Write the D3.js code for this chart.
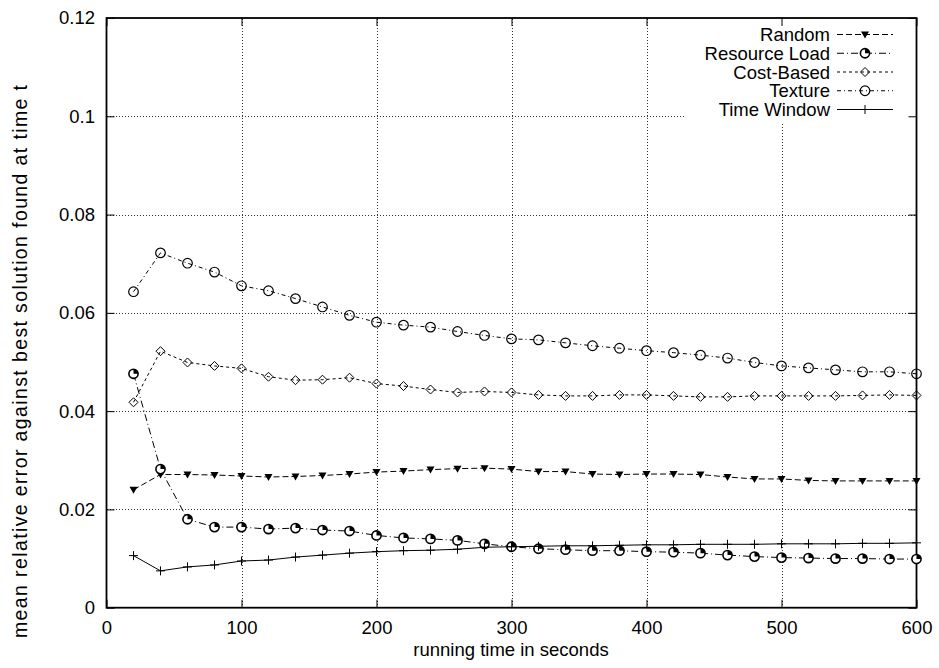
<!DOCTYPE html>
<html>
<head>
<meta charset="utf-8">
<script src="https://cdn.jsdelivr.net/npm/d3@7"></script>
<style>
  html, body { margin: 0; padding: 0; background: #fff; }
  svg { display: block; }
  text { font-family: "Liberation Sans", Arial, Helvetica, sans-serif; fill: #000; }
</style>
</head>
<body>
<svg id="chart" width="939" height="668"></svg>
<script>
// ---- data ----
const times = [20,40,60,80,100,120,140,160,180,200,220,240,260,280,300,320,340,360,380,400,420,440,460,480,500,520,540,560,580,600];
const random = [0.0240,0.0271,0.0271,0.0270,0.0268,0.0266,0.0267,0.0269,0.0272,0.0276,0.0278,0.0281,0.0283,0.0284,0.0282,0.0277,0.0277,0.0272,0.0271,0.0272,0.0272,0.0271,0.0266,0.0262,0.0262,0.0259,0.0258,0.0258,0.0258,0.0258];
const resourceLoad = [0.0476,0.0282,0.0180,0.0164,0.0164,0.0160,0.0162,0.0158,0.0156,0.0147,0.0142,0.0140,0.0137,0.0130,0.0124,0.0120,0.0118,0.0116,0.0116,0.0114,0.0113,0.0111,0.0107,0.0104,0.0102,0.0101,0.0100,0.0100,0.0099,0.0099];
const costBased = [0.0418,0.0522,0.0499,0.0492,0.0487,0.0470,0.0463,0.0464,0.0468,0.0456,0.0451,0.0444,0.0438,0.0440,0.0438,0.0433,0.0431,0.0431,0.0433,0.0433,0.0431,0.0429,0.0429,0.0431,0.0431,0.0431,0.0431,0.0432,0.0433,0.0432];
const texture = [0.0643,0.0722,0.0701,0.0683,0.0655,0.0645,0.0629,0.0612,0.0595,0.0581,0.0575,0.0571,0.0562,0.0554,0.0547,0.0545,0.0539,0.0533,0.0528,0.0523,0.0519,0.0514,0.0508,0.0499,0.0492,0.0488,0.0484,0.0480,0.0480,0.0476];
const timeWindow = [0.0106,0.0075,0.0083,0.0087,0.0095,0.0097,0.0103,0.0107,0.0111,0.0114,0.0116,0.0117,0.0119,0.0123,0.0124,0.0125,0.0126,0.0126,0.0127,0.0128,0.0128,0.0129,0.0129,0.0129,0.0130,0.0130,0.0130,0.0131,0.0131,0.0132];
const seriesNames = ["Random","Resource Load","Cost-Based","Texture","Time Window"];
const xTicks = [0,100,200,300,400,500,600];
const yTicks = [0,0.02,0.04,0.06,0.08,0.1,0.12];
const yTickLabels = ["0","0.02","0.04","0.06","0.08","0.1","0.12"];
const xLabel = "running time in seconds";
const yLabel = "mean relative error against best solution found at time t";

// ---- layout ----
const FS = 18.5;
const svg = d3.select("#chart");
const L = 106.5, R = 916.5, T = 18, B = 607.7;
const x = d3.scaleLinear().domain([0,600]).range([L,R]);
const y = d3.scaleLinear().domain([0,0.12]).range([B,T]);

// grid
const grid = svg.append("g").attr("stroke","#333").attr("stroke-width",1).attr("stroke-dasharray","1,2").attr("shape-rendering","crispEdges");
grid.selectAll("line.gx").data(xTicks.filter(d=>d>0 && d<600)).join("line")
  .attr("x1",d=>Math.round(x(d))+0.5).attr("x2",d=>Math.round(x(d))+0.5).attr("y1",B).attr("y2",T);
grid.selectAll("line.gy").data(yTicks.filter(d=>d>0 && d<0.12)).join("line")
  .attr("y1",d=>Math.round(y(d))+0.5).attr("y2",d=>Math.round(y(d))+0.5).attr("x1",L).attr("x2",R);

// legend background
svg.append("rect").attr("x",684).attr("y",T+1).attr("width",R-684).attr("height",104).attr("fill","#fff");

// axes
const fmtY = d => yTickLabels[yTicks.indexOf(d)];
const axL = svg.append("g").attr("transform",`translate(${L},0)`)
  .call(d3.axisLeft(y).tickValues(yTicks).tickFormat(fmtY).tickSize(-8).tickPadding(11.5));
const axR = svg.append("g").attr("transform",`translate(${R},0)`)
  .call(d3.axisRight(y).tickValues(yTicks).tickFormat("").tickSize(-8));
const axB = svg.append("g").attr("transform",`translate(0,${B})`)
  .call(d3.axisBottom(x).tickValues(xTicks).tickFormat(d3.format("d")).tickSize(-8).tickPadding(13));
const axT = svg.append("g").attr("transform",`translate(0,${T})`)
  .call(d3.axisTop(x).tickValues(xTicks).tickFormat("").tickSize(-8));
[axL,axR,axB,axT].forEach(a => {
  a.select(".domain").remove();
  a.selectAll("line").attr("stroke","#000").attr("stroke-width",1);
  a.selectAll("text").attr("font-size",FS).attr("font-family","Liberation Sans, Arial, sans-serif").attr("fill","#000");
});
svg.append("rect").attr("x",L).attr("y",T).attr("width",R-L).attr("height",B-T)
  .attr("fill","none").attr("stroke","#000").attr("stroke-width",1.8);

// labels
svg.append("text").attr("x",511).attr("y",656).attr("text-anchor","middle").attr("font-size",FS).text(xLabel);
svg.append("text").attr("transform","translate(27,361.5) rotate(-90)").attr("text-anchor","middle").attr("font-size",19.5)
  .attr("textLength",553).attr("lengthAdjust","spacing").text(yLabel);

// series
const series = [
  {name:seriesNames[0], values:random, dash:"6,3", marker:"tri"},
  {name:seriesNames[1], values:resourceLoad, dash:"7,3,1,3", marker:"half"},
  {name:seriesNames[2], values:costBased, dash:"3,3", marker:"diamond"},
  {name:seriesNames[3], values:texture, dash:"4,3,1,3", marker:"circle"},
  {name:seriesNames[4], values:timeWindow, dash:null, marker:"plus"}
];

function drawMarker(g, type, cx, cy) {
  if (type === "tri") {
    g.append("path").attr("d",`M${cx-4},${cy-3}L${cx+4},${cy-3}L${cx},${cy+4}Z`).attr("fill","#000");
  } else if (type === "half") {
    g.append("circle").attr("cx",cx).attr("cy",cy).attr("r",4.6).attr("fill","#fff").attr("stroke","#000").attr("stroke-width",1.6);
    g.append("path").attr("d",`M${cx},${cy}L${cx},${cy-4.6}A4.6,4.6 0 0 1 ${cx+4.6},${cy}Z`).attr("fill","#000");
  } else if (type === "diamond") {
    g.append("path").attr("d",`M${cx},${cy-4.5}L${cx+4.5},${cy}L${cx},${cy+4.5}L${cx-4.5},${cy}Z`).attr("fill","none").attr("stroke","#000").attr("stroke-width",1);
  } else if (type === "circle") {
    g.append("circle").attr("cx",cx).attr("cy",cy).attr("r",4.8).attr("fill","none").attr("stroke","#000").attr("stroke-width",1.2);
  } else if (type === "plus") {
    g.append("path").attr("d",`M${cx-4.5},${cy}H${cx+4.5}M${cx},${cy-4.5}V${cy+4.5}`).attr("stroke","#000").attr("stroke-width",1);
  }
}

const line = d3.line().x(d=>x(d[0])).y(d=>y(d[1]));
series.forEach(s => {
  const pts = times.map((t,i)=>[t,s.values[i]]);
  const g = svg.append("g");
  g.append("path").attr("d",line(pts)).attr("fill","none").attr("stroke","#000").attr("stroke-width",1)
    .attr("stroke-dasharray",s.dash);
  pts.forEach(p => drawMarker(g, s.marker, x(p[0]), y(p[1])));
});

// legend
const lg = svg.append("g");
series.forEach((s,i) => {
  const yy = 34.5 + i*18.75;
  lg.append("text").attr("x",830).attr("y",yy).attr("dy","0.36em").attr("text-anchor","end").attr("font-size",FS).text(s.name);
  lg.append("line").attr("x1",837).attr("x2",893).attr("y1",yy).attr("y2",yy).attr("stroke","#000").attr("stroke-width",1).attr("stroke-dasharray",s.dash);
  drawMarker(lg, s.marker, 865, yy);
});
</script>
</body>
</html>
